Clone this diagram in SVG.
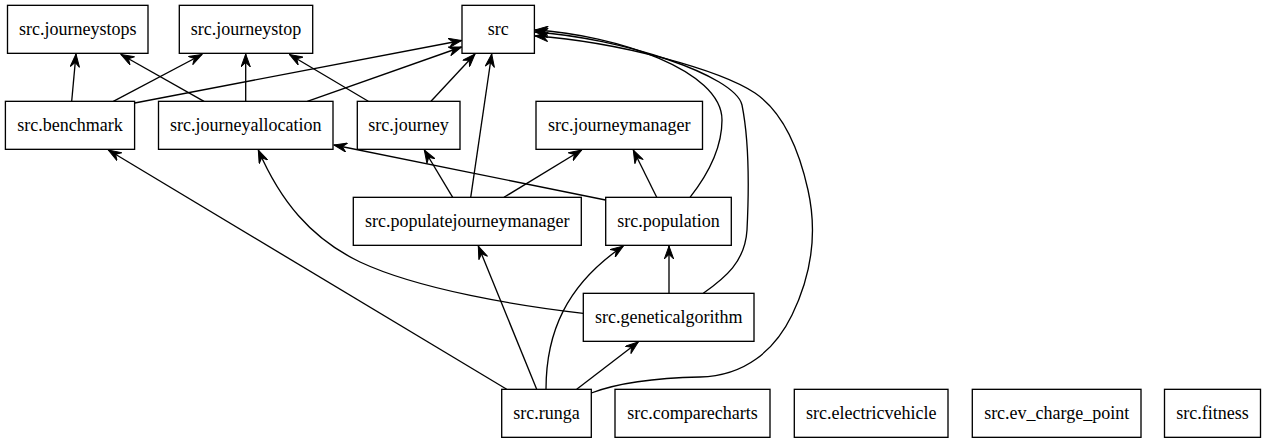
<svg xmlns="http://www.w3.org/2000/svg" width="1265" height="443" viewBox="0 0 1265 443">
<style>
.node rect{fill:#fff;stroke:#000;stroke-width:1.33}
.node text{font-family:'Liberation Serif','Times New Roman',serif;font-size:18px;text-anchor:middle;fill:#000}
.edges path{fill:none;stroke:#000;stroke-width:1.33;marker-end:url(#vee)}
</style>
<defs>
<marker id="vee" markerUnits="userSpaceOnUse" viewBox="0 0 14 10" markerWidth="14" markerHeight="10" refX="13.3" refY="5" orient="auto">
<path d="M0.3,0.3 L13.3,5 L0.3,9.7 L4.8,5 Z" fill="#000" stroke="#000" stroke-width="1"/>
</marker>
</defs>
<rect x="0" y="0" width="1265" height="443" fill="#fff"/>
<g class="edges">
<path d="M71.7,101.3 L76,54"/>
<path d="M113.3,101.3 L202,54.5"/>
<path d="M134.7,103 L461.5,40.5"/>
<path d="M204,101.3 L121,54.5"/>
<path d="M245.7,101.3 L245.7,54"/>
<path d="M307.3,101.3 L461.5,47"/>
<path d="M368.3,101.3 L289.5,54.5"/>
<path d="M431,101.3 L475,54"/>
<path d="M452.7,197.3 L424.3,150"/>
<path d="M470.7,197.3 L491.7,54"/>
<path d="M504,197.3 L581.7,150"/>
<path d="M605.5,200 L334,145"/>
<path d="M656.7,197.3 L633.3,150"/>
<path d="M690,197.3 C706,177 722,150 722,120 C722,70 615,35 535,30"/>
<path d="M669,293.3 L669,246"/>
<path d="M583.3,313.3 C520,306 420,290 360,262 C310,238 280,200 258.3,150"/>
<path d="M703.3,293.3 C725,278 745,262 747,230 C749,190 749,140 742,105 C735,75 620,38 535,32"/>
<path d="M506.7,389.3 L108.3,150"/>
<path d="M536.7,389.3 L478.3,246"/>
<path d="M546,389.3 C546,333 566,285 623.3,246"/>
<path d="M576.7,389.3 L638.3,342"/>
<path d="M591.3,393 C615,384 650,378 700,377 C745,376 775,350 792,315 C810,278 818,235 808,190 C798,145 780,110 755,93 C720,70 620,42 535,36"/>
</g>
<g id="node-journeystops" class="node"><rect x="7.5" y="5.33" width="140.5" height="48"/><text x="77.7" y="34.9">src.journeystops</text></g>
<g id="node-journeystop" class="node"><rect x="179.3" y="5.33" width="133.4" height="48"/><text x="246" y="34.9">src.journeystop</text></g>
<g id="node-src" class="node"><rect x="462" y="5.33" width="72.4" height="48"/><text x="498.2" y="34.9">src</text></g>
<g id="node-benchmark" class="node"><rect x="5.4" y="101.33" width="129.2" height="48"/><text x="70" y="130.9">src.benchmark</text></g>
<g id="node-journeyallocation" class="node"><rect x="158.5" y="101.33" width="174.5" height="48"/><text x="245.7" y="130.9">src.journeyallocation</text></g>
<g id="node-journey" class="node"><rect x="357.3" y="101.33" width="102.7" height="48"/><text x="408.6" y="130.9">src.journey</text></g>
<g id="node-journeymanager" class="node"><rect x="536" y="101.33" width="166.5" height="48"/><text x="619.2" y="130.9">src.journeymanager</text></g>
<g id="node-populatejourneymanager" class="node"><rect x="353.3" y="197.33" width="228" height="48"/><text x="467.3" y="226.9">src.populatejourneymanager</text></g>
<g id="node-population" class="node"><rect x="605.7" y="197.33" width="125.6" height="48"/><text x="668.5" y="226.9">src.population</text></g>
<g id="node-geneticalgorithm" class="node"><rect x="583.3" y="293.33" width="170.7" height="48"/><text x="668.7" y="322.9">src.geneticalgorithm</text></g>
<g id="node-runga" class="node"><rect x="501.7" y="389.33" width="89.6" height="48"/><text x="546.5" y="418.9">src.runga</text></g>
<g id="node-comparecharts" class="node"><rect x="615" y="389.33" width="155" height="48"/><text x="692.5" y="418.9">src.comparecharts</text></g>
<g id="node-electricvehicle" class="node"><rect x="794.3" y="389.33" width="153.7" height="48"/><text x="871.2" y="418.9">src.electricvehicle</text></g>
<g id="node-ev_charge_point" class="node"><rect x="972.3" y="389.33" width="168.7" height="48"/><text x="1056.7" y="418.9">src.ev_charge_point</text></g>
<g id="node-fitness" class="node"><rect x="1164.5" y="389.33" width="96" height="48"/><text x="1212.5" y="418.9">src.fitness</text></g>
</svg>
